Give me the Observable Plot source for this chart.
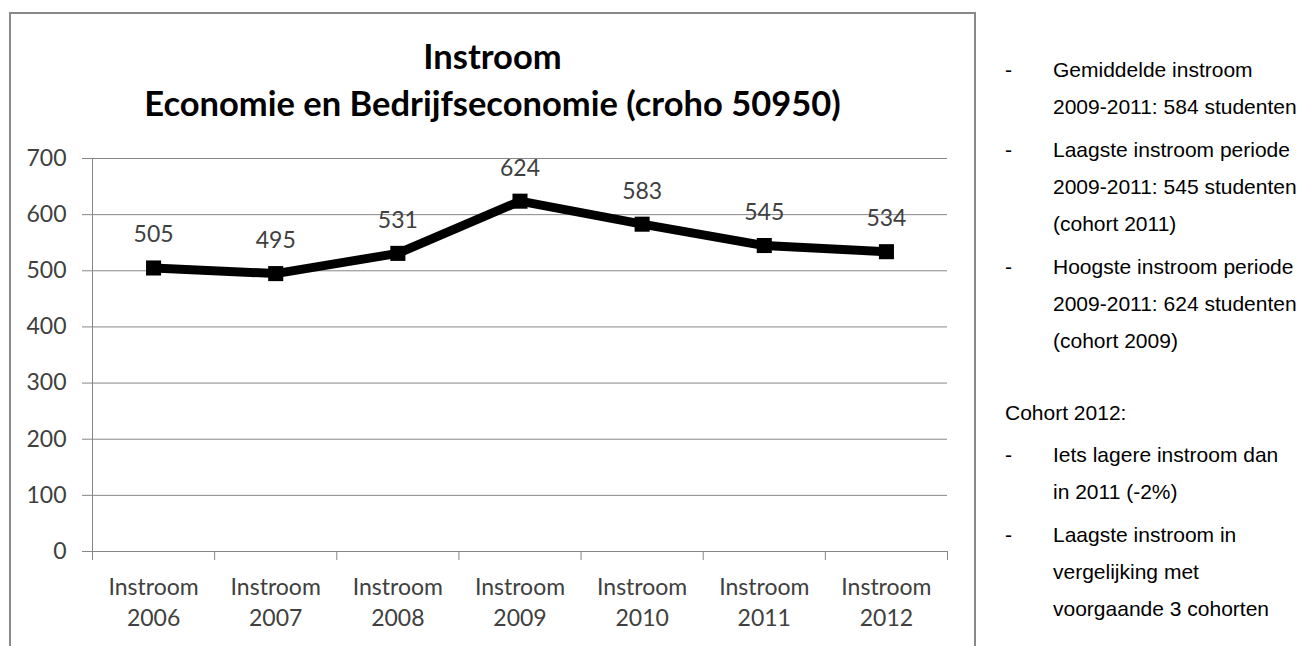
<!DOCTYPE html>
<html>
<head>
<meta charset="utf-8">
<script src="https://cdn.jsdelivr.net/npm/d3@7"></script>
<script src="https://cdn.jsdelivr.net/npm/@observablehq/plot@0.6"></script>
<style>
  html, body { margin: 0; padding: 0; background: #fff; }
  #wrap { position: relative; width: 1305px; height: 646px; overflow: hidden; background: #fff; }
  #frame { position: absolute; left: 9px; top: 12px; width: 967px; height: 700px; border: 2px solid #898989; box-sizing: border-box; }
  #title { position: absolute; left: 9px; width: 967px; top: 32px; text-align: center; font-family: Lato, sans-serif; font-weight: 700; font-size: 34.5px; line-height: 47px; color: #000; }
  #chart { position: absolute; left: 0; top: 0; }
  #notes { position: absolute; left: 1005px; top: 51px; font-family: "Liberation Sans", Arial, sans-serif; font-size: 21px; line-height: 37px; color: #000; white-space: nowrap; }
  .item { display: flex; margin-bottom: 6px; }
  .dash { width: 48px; flex: none; }
  .head { margin-top: 35px; margin-bottom: 5px; }
</style>
</head>
<body>
<div id="wrap">
  <div id="frame"></div>
  <div id="title">Instroom<br>Economie en Bedrijfseconomie (croho 50950)</div>
  <div id="chart"></div>
  <div id="notes">
    <div class="item"><span class="dash">-</span><span>Gemiddelde instroom<br>2009-2011: 584 studenten</span></div>
    <div class="item"><span class="dash">-</span><span>Laagste instroom periode<br>2009-2011: 545 studenten<br>(cohort 2011)</span></div>
    <div class="item"><span class="dash">-</span><span>Hoogste instroom periode<br>2009-2011: 624 studenten<br>(cohort 2009)</span></div>
    <div class="head">Cohort 2012:</div>
    <div class="item"><span class="dash">-</span><span>Iets lagere instroom dan<br>in 2011 (-2%)</span></div>
    <div class="item"><span class="dash">-</span><span>Laagste instroom in<br>vergelijking met<br>voorgaande 3 cohorten</span></div>
  </div>
</div>
<script>
const categories = ["Instroom\n2006", "Instroom\n2007", "Instroom\n2008", "Instroom\n2009", "Instroom\n2010", "Instroom\n2011", "Instroom\n2012"];
const values = [505, 495, 531, 624, 583, 545, 534];
const yTicks = [0, 100, 200, 300, 400, 500, 600, 700];

const data = categories.map((label, i) => ({pos: i + 0.5, label, value: values[i]}));
const boundaries = d3.range(categories.length + 1);

const chart = Plot.plot({
  width: 1000,
  height: 646,
  marginLeft: 92,
  marginRight: 53,
  marginTop: 158,
  marginBottom: 95,
  style: {background: "transparent", fontFamily: "Lato, sans-serif", color: "#404040", overflow: "visible"},
  x: {domain: [0, categories.length], axis: null},
  y: {domain: [0, 700], axis: null},
  marks: [
    Plot.gridY(yTicks, {stroke: "#868686", strokeOpacity: 1, strokeWidth: 1}),
    Plot.ruleX([0], {y1: 0, y2: 700, stroke: "#868686", strokeWidth: 1}),
    Plot.axisY(yTicks, {label: null, tickSize: 10, tickPadding: 16, fontSize: 23, stroke: "#868686", fill: "#404040", tickFormat: d => String(d)}),
    Plot.axisX(boundaries, {label: null, tickSize: 9, tickFormat: () => "", stroke: "#868686"}),
    Plot.line(data, {x: "pos", y: "value", stroke: "#000", strokeWidth: 9, strokeLinejoin: "miter"}),
    Plot.dot(data, {x: "pos", y: "value", symbol: "square", r: 8.5, fill: "#000", stroke: "none"}),
    Plot.text(data, {x: "pos", y: "value", text: d => String(d.value), dy: -33, fontSize: 23, fill: "#404040"}),
    Plot.text(data, {x: "pos", text: "label", frameAnchor: "bottom", lineAnchor: "top", dy: 21, fontSize: 23, lineHeight: 1.35, fill: "#404040"})
  ]
});
document.getElementById("chart").appendChild(chart);
</script>
</body>
</html>
